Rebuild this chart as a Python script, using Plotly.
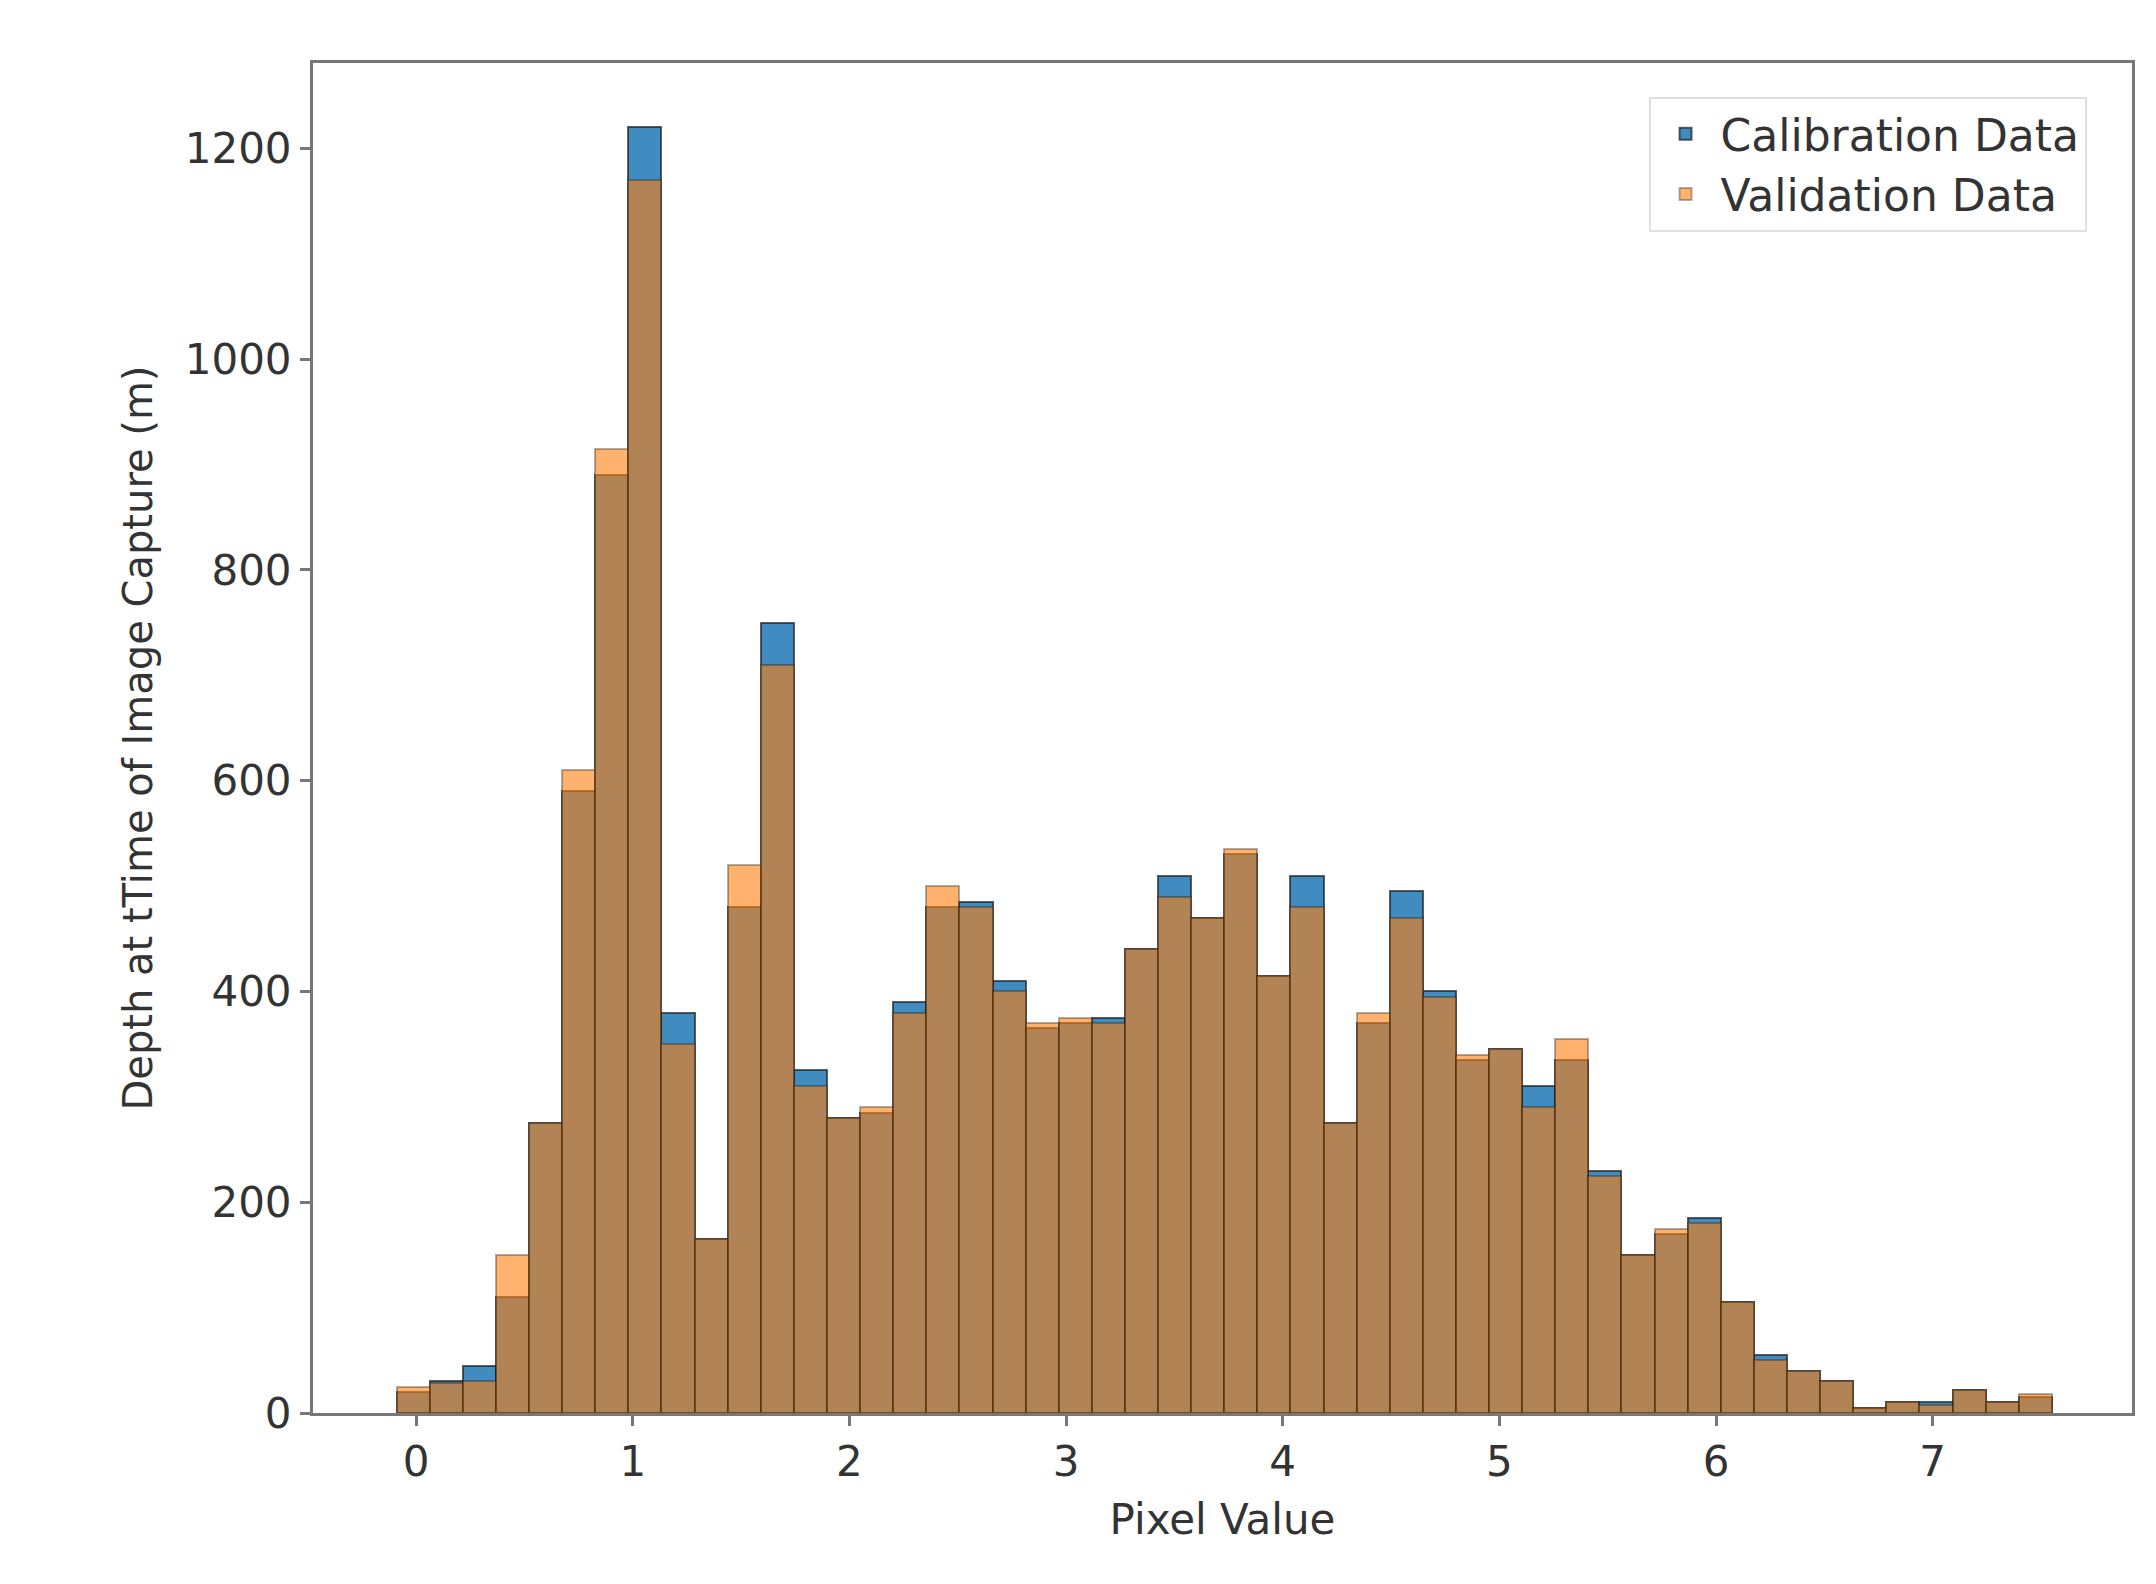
import numpy as np
import plotly.graph_objects as go

# histogram bins (50 equal-width bins)
bin_start = -0.09
bin_end = 7.55
n_bins = 50

calibration = [20, 30, 45, 110, 275, 590, 890, 1220, 380, 165,
               480, 750, 325, 280, 285, 390, 480, 485, 410, 365,
               370, 375, 440, 510, 470, 530, 415, 510, 275, 370,
               495, 400, 335, 345, 310, 335, 230, 150, 170, 185,
               105, 55, 40, 30, 5, 10, 10, 22, 10, 15]
validation = [25, 28, 30, 150, 275, 610, 915, 1170, 350, 165,
              520, 710, 310, 280, 290, 380, 500, 480, 400, 370,
              375, 370, 440, 490, 470, 535, 415, 480, 275, 380,
              470, 395, 340, 345, 290, 355, 225, 150, 175, 180,
              105, 50, 40, 30, 5, 10, 8, 22, 10, 18]

edges = np.linspace(bin_start, bin_end, n_bins + 1)
centers = (edges[:-1] + edges[1:]) / 2
width = edges[1] - edges[0]

fig = go.Figure()
fig.add_trace(go.Bar(x=centers, y=calibration, width=width, name="Calibration Data",
                     marker=dict(color="rgba(31,119,180,0.85)",
                                 line=dict(color="rgba(30,30,30,0.7)", width=2))))
fig.add_trace(go.Bar(x=centers, y=validation, width=width, name="Validation Data",
                     marker=dict(color="rgba(255,127,14,0.6)",
                                 line=dict(color="rgba(30,30,30,0.35)", width=2))))

font = "DejaVu Sans"
fig.update_layout(
    width=2156, height=1584,
    barmode="overlay", bargap=0,
    plot_bgcolor="white", paper_bgcolor="white",
    font=dict(family=font, size=42, color="#333"),
    margin=dict(l=305, r=32, t=55, b=179),
    legend=dict(x=0.975, y=0.975, xanchor="right", yanchor="top",
                bgcolor="rgba(255,255,255,0.8)", bordercolor="#e0e0e0", borderwidth=2,
                font=dict(size=44), itemwidth=60),
    xaxis=dict(range=[-0.476, 7.92], tickvals=list(range(8)), showgrid=False,
               showline=True, mirror=True, linecolor="#777", linewidth=3,
               ticks="outside", ticklen=10, tickwidth=3, tickcolor="#777",
               title=dict(text="Pixel Value", standoff=20, font=dict(size=42)), zeroline=False),
    yaxis=dict(range=[0, 1281], tickvals=[0, 200, 400, 600, 800, 1000, 1200], showgrid=False,
               showline=True, mirror=True, linecolor="#777", linewidth=3,
               ticks="outside", ticklen=10, tickwidth=3, tickcolor="#777",
               title=dict(text="Depth at tTime of Image Capture (m)", standoff=20,
                          font=dict(size=40)), zeroline=False),
)

fig.write_html("out.html")
